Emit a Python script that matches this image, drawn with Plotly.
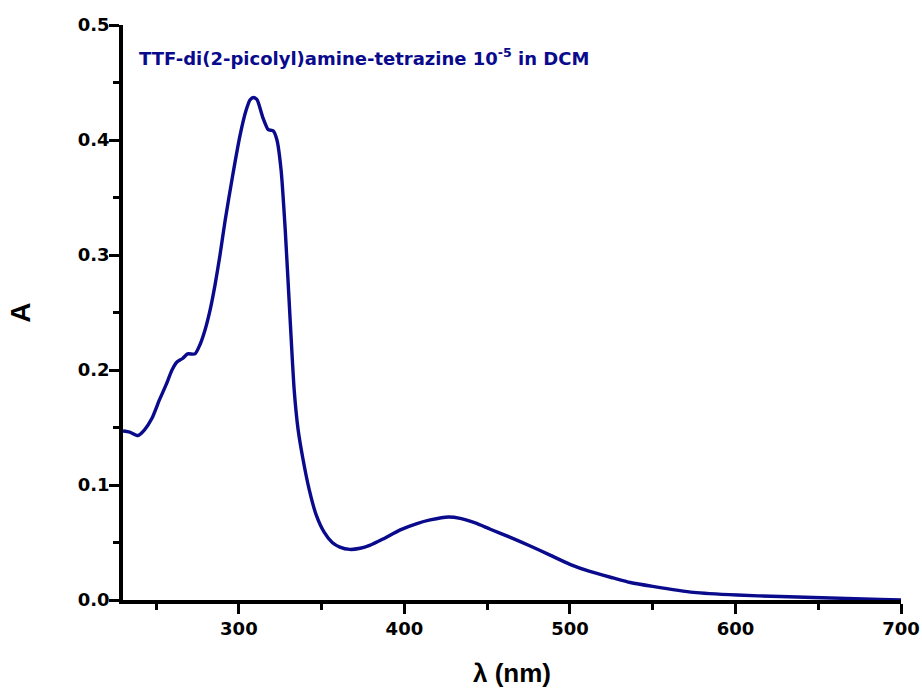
import plotly.graph_objects as go

wavelength_nm = [230, 234, 239, 243, 247.5, 252, 256, 259.6, 262.6, 266, 269, 273.5, 276.5,
                 279.6, 282.6, 285.6, 288.6, 291.7, 296, 300.7, 304.4, 306.8, 308.8, 311,
                 314.6, 317.7, 320.7, 323, 325.5, 328, 331, 333.4, 335.8, 338.8, 342.5,
                 346.7, 351.5, 356.4, 361, 367, 373.3, 379, 387, 397.5, 407.6, 415.6,
                 426.5, 433.7, 442.8, 451.9, 464, 476, 488, 500, 512, 526, 536.5, 550,
                 574.6, 601, 627, 647, 687.7, 700]
absorbance = [0.147, 0.146, 0.143, 0.148, 0.158, 0.174, 0.187, 0.200, 0.207, 0.210, 0.214,
              0.214, 0.222, 0.235, 0.252, 0.274, 0.300, 0.330, 0.367, 0.404, 0.426, 0.435,
              0.437, 0.435, 0.419, 0.409, 0.408, 0.400, 0.374, 0.322, 0.243, 0.183, 0.148,
              0.122, 0.096, 0.074, 0.059, 0.050, 0.046, 0.044, 0.045, 0.0475, 0.053, 0.061,
              0.0665, 0.0696, 0.0722, 0.071, 0.067, 0.0615, 0.0545, 0.047, 0.039, 0.031,
              0.0248, 0.0192, 0.0152, 0.0118, 0.0066, 0.0043, 0.003, 0.0022, 0.0005, 0.0]

x_ticks = [300, 400, 500, 600, 700]
y_ticks = [0.0, 0.1, 0.2, 0.3, 0.4, 0.5]
y_tick_labels = ["0.0", "0.1", "0.2", "0.3", "0.4", "0.5"]

navy = "#0a0a8c"
tick_font = "DejaVu Sans, Liberation Sans, Arial, sans-serif"
title_font = "Liberation Sans, Arial, sans-serif"

fig = go.Figure()
fig.add_trace(go.Scatter(
    x=wavelength_nm, y=absorbance, mode="lines",
    line=dict(color=navy, width=3.4, shape="spline", smoothing=0.6),
    showlegend=False, hoverinfo="x+y",
))

axis_common = dict(
    showline=True, linecolor="black", linewidth=3.5, mirror=False,
    ticks="outside", ticklen=10, tickwidth=3, tickcolor="black",
    showgrid=False, zeroline=False, automargin=False, ticklabeloverflow="allow",
    tickfont=dict(family=tick_font, size=18, color="black", weight="bold"),
)

fig.update_xaxes(
    range=[230, 700], tickvals=x_ticks, ticktext=[str(v) for v in x_ticks],
    minor=dict(ticks="outside", ticklen=6, tickwidth=3, tickcolor="black", dtick=50, tick0=250, showgrid=False),
    title=dict(text="λ (nm)", font=dict(family=title_font, size=26, color="black", weight="bold"), standoff=31),
    ticklabelstandoff=0,
    **axis_common,
)
fig.update_yaxes(
    range=[0, 0.5], tickvals=y_ticks, ticktext=y_tick_labels,
    minor=dict(ticks="outside", ticklen=6, tickwidth=3, tickcolor="black", dtick=0.05, tick0=0, showgrid=False),
    title=dict(text="A", font=dict(family=title_font, size=28, color="black", weight="bold"), standoff=40),
    ticklabelstandoff=-4,
    **axis_common,
)

fig.add_annotation(
    text="TTF-di(2-picolyl)amine-tetrazine 10<sup>-5</sup> in DCM",
    xref="paper", yref="paper", x=0.018, y=0.944, xanchor="left", yanchor="middle",
    showarrow=False, font=dict(family=tick_font, size=18, color=navy, weight="bold"),
)

fig.update_layout(
    width=922, height=688,
    margin=dict(l=123, r=21, t=25, b=88),
    paper_bgcolor="white", plot_bgcolor="white",
)

fig.write_html("out.html")
